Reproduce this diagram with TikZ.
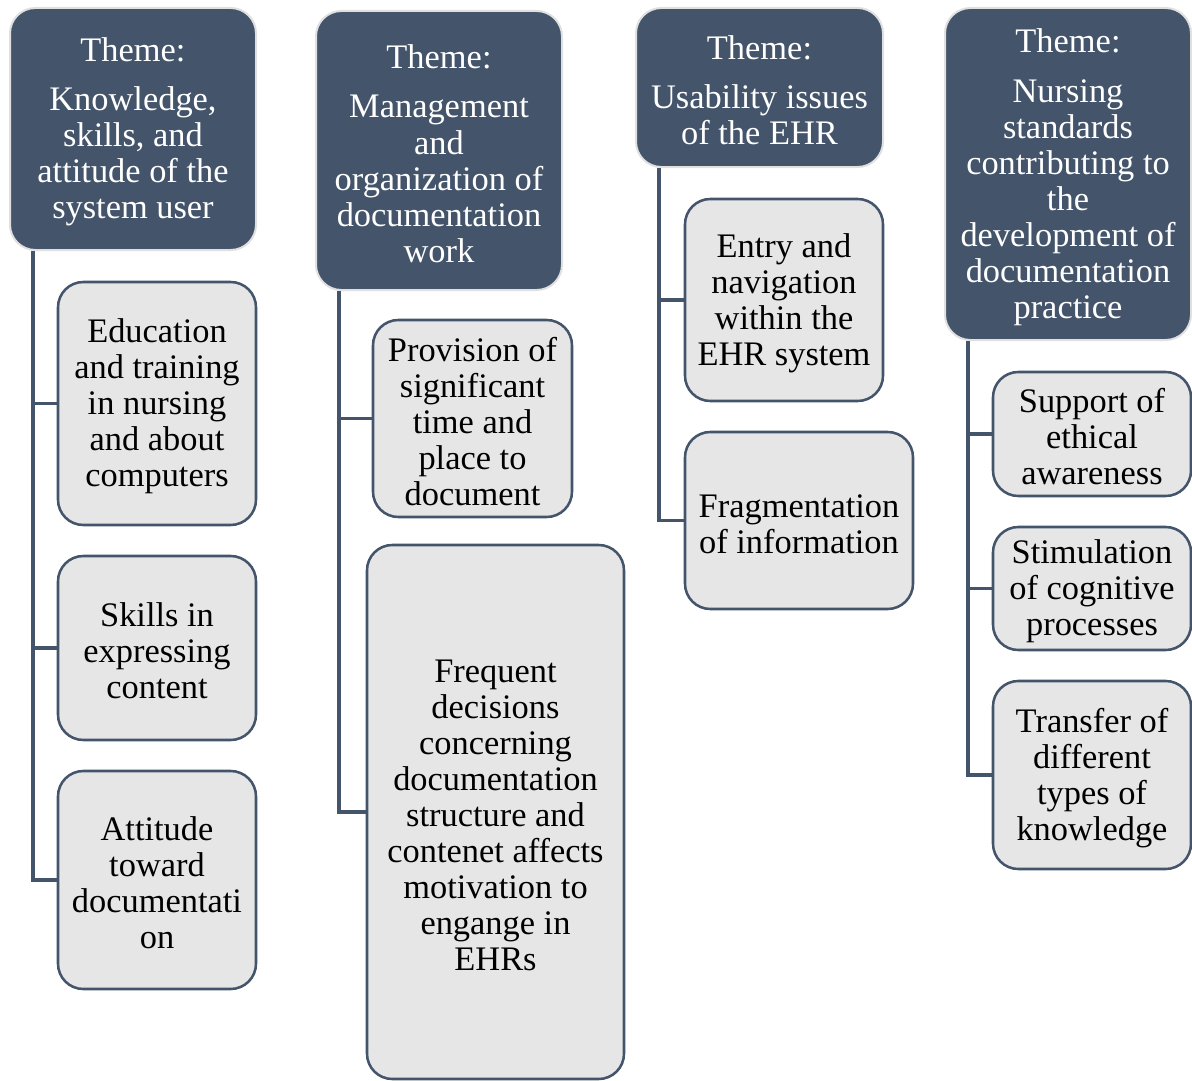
\documentclass[tikz,border=0pt]{standalone}
\usepackage{fontspec}
\setmainfont{Liberation Serif}
\definecolor{slate}{HTML}{44546A}
\definecolor{paper}{HTML}{E7E6E6}
\newcommand{\lift}{\rule{0pt}{22.5pt}}
\tikzset{
	theme/.style={rectangle,rounded corners=19pt,fill=slate,draw=black!12,line width=1.5pt,text=white,align=center,inner sep=0pt},
	sub/.style={rectangle,rounded corners=19pt,fill=paper,draw=slate,line width=1.9pt,text=black,align=center,inner sep=0pt},
	size/.style 2 args={minimum width=#1*0.75pt,minimum height=#2*0.75pt},
	link/.style={draw=slate,line width=2.6pt}
}
\begin{document}
\begin{tikzpicture}[x=0.75pt,y=-0.75pt,font=\fontsize{25.8}{27}\selectfont]
	\useasboundingbox (0,0) rectangle (1192,1081);
	\node[theme,size={246}{242}] (t1) at (133,129) {\lift Theme:\\[10pt]Knowledge,\\skills, and\\attitude of the\\system user};
	\node[sub,size={198}{243}] (s11) at (157,403.5) {\lift Education\\and training\\in nursing\\and about\\computers};
	\node[sub,size={198}{184}] (s12) at (157,648) {\lift Skills in\\expressing\\content};
	\node[sub,size={198}{218}] (s13) at (157,880) {\lift Attitude\\toward\\documentati\\on};
	\draw[link] (t1.south west) ++(24,0) |- (s11.west);
	\draw[link] (t1.south west) ++(24,0) |- (s12.west);
	\draw[link] (t1.south west) ++(24,0) |- (s13.west);
	\node[theme,size={246}{279}] (t2) at (439,150.5) {\lift Theme:\\[10pt]Management\\and\\organization of\\documentation\\work};
	\node[sub,size={199}{197}] (s21) at (472.5,418.5) {\lift Provision of\\significant\\time and\\place to\\document};
	\node[sub,size={257}{534}] (s22) at (495.5,812) {\lift Frequent\\decisions\\concerning\\documentation\\structure and\\contenet affects\\motivation to\\engange in\\EHRs};
	\draw[link] (t2.south west) ++(24,0) |- (s21.west);
	\draw[link] (t2.south west) ++(24,0) |- (s22.west);
	\node[theme,size={247}{159}] (t3) at (759.5,87.5) {\lift Theme:\\[10pt]Usability issues\\of the EHR};
	\node[sub,size={198}{202}] (s31) at (784,300) {\lift Entry and\\navigation\\within the\\EHR system};
	\node[sub,size={228}{177}] (s32) at (799,520.5) {\lift Fragmentation\\of information};
	\draw[link] (t3.south west) ++(24,0) |- (s31.west);
	\draw[link] (t3.south west) ++(24,0) |- (s32.west);
	\node[theme,size={246}{332}] (t4) at (1068,174) {\lift Theme:\\[10pt]Nursing\\standards\\contributing to\\the\\development of\\documentation\\practice};
	\node[sub,size={198}{124}] (s41) at (1092,434) {\lift Support of\\ethical\\awareness};
	\node[sub,size={198}{123}] (s42) at (1092,588.5) {\lift Stimulation\\of cognitive\\processes};
	\node[sub,size={198}{188}] (s43) at (1092,775) {\lift Transfer of\\different\\types of\\knowledge};
	\draw[link] (t4.south west) ++(24,0) |- (s41.west);
	\draw[link] (t4.south west) ++(24,0) |- (s42.west);
	\draw[link] (t4.south west) ++(24,0) |- (s43.west);
\end{tikzpicture}
\end{document}
